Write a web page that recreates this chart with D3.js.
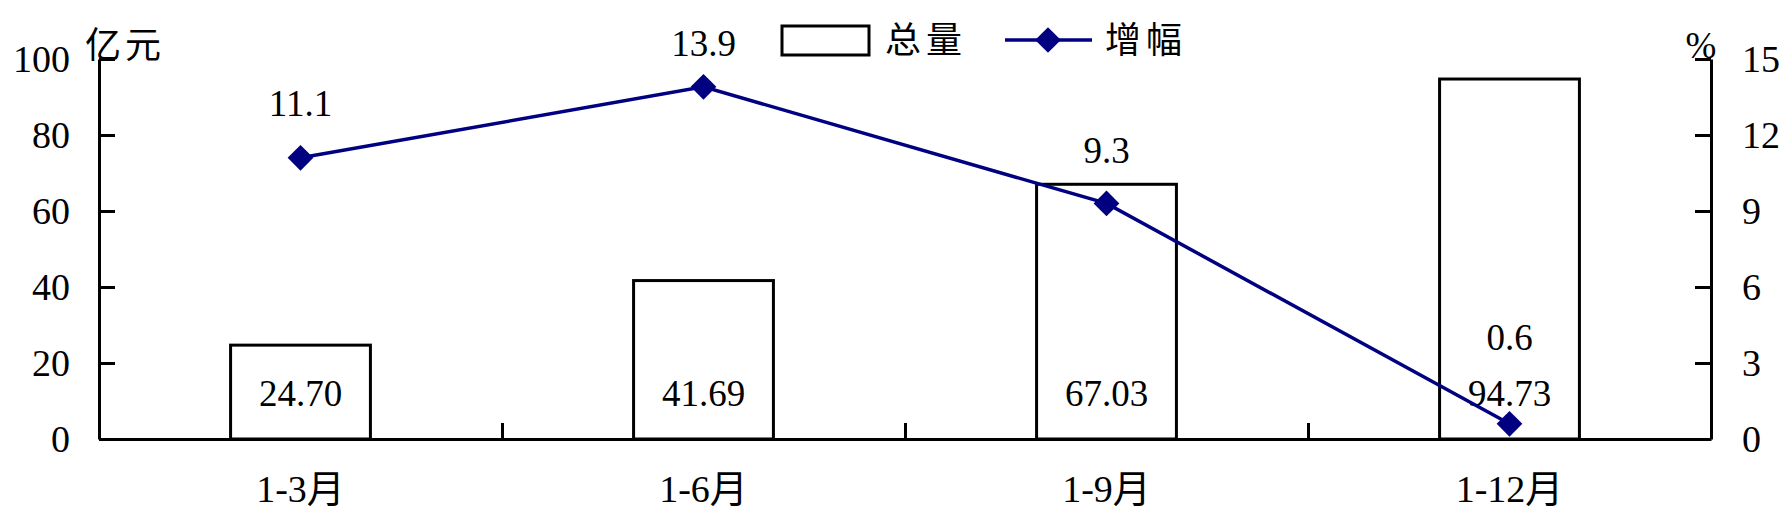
<!DOCTYPE html>
<html>
<head>
<meta charset="utf-8">
<script src="https://cdn.jsdelivr.net/npm/d3@7"></script>
<style>
  html, body { margin: 0; padding: 0; background: #fff; }
  svg { display: block; }
</style>
</head>
<body>
<svg id="chart" width="1785" height="523"></svg>
<script>
// ---- data ----
const categories = ["1-3月", "1-6月", "1-9月", "1-12月"];
const totals = [24.70, 41.69, 67.03, 94.73];          // 亿元
const growth = [11.1, 13.9, 9.3, 0.6];                // %
const leftTicks = [0, 20, 40, 60, 80, 100];
const rightTicks = [0, 3, 6, 9, 12, 15];
const totalLabels = ["24.70", "41.69", "67.03", "94.73"];
const growthLabels = ["11.1", "13.9", "9.3", "0.6"];
// label offsets above each point (layout only)
const growthLabelOffset = [55, 44, 53, 87];

// ---- layout ----
const plotL = 99, plotR = 1711, plotT = 59, plotB = 439;
const FF = '"Liberation Serif", "Noto Sans CJK SC", serif';
const FS = 38;
const navy = "#000080";

const svg = d3.select("#chart");

const x = d3.scaleBand().domain(categories).range([plotL, plotR]).paddingInner(0).paddingOuter(0);
const xb = d3.scaleLinear().domain([0, categories.length]).range([plotL, plotR]);
const yL = d3.scaleLinear().domain([0, 100]).range([plotB, plotT]);
const yR = d3.scaleLinear().domain([0, 15]).range([plotB, plotT]);
const barW = x.bandwidth() * 0.347;

// bars
svg.append("g").selectAll("rect").data(totals).join("rect")
  .attr("x", (d, i) => x(categories[i]) + x.bandwidth() / 2 - barW / 2)
  .attr("y", d => yL(d))
  .attr("width", barW)
  .attr("height", d => yL(0) - yL(d))
  .attr("fill", "#fff")
  .attr("stroke", "#000")
  .attr("stroke-width", 3);

// bar labels
svg.append("g").selectAll("text").data(totalLabels).join("text")
  .attr("x", (d, i) => x(categories[i]) + x.bandwidth() / 2)
  .attr("y", yL(0) - 46)
  .attr("dy", "0.35em")
  .attr("text-anchor", "middle")
  .style("font-family", FF)
  .style("font-size", "37px")
  .text(d => d);

// axes
const axL = svg.append("g").attr("transform", `translate(${plotL},0)`)
  .call(d3.axisLeft(yL).tickValues(leftTicks).tickSizeInner(-16).tickSizeOuter(0).tickPadding(29).tickFormat(d3.format("d")));
const axR = svg.append("g").attr("transform", `translate(${plotR},0)`)
  .call(d3.axisRight(yR).tickValues(rightTicks).tickSizeInner(-16).tickSizeOuter(0).tickPadding(31).tickFormat(d3.format("d")));
const axB = svg.append("g").attr("transform", `translate(0,${plotB})`)
  .call(d3.axisBottom(x).tickSize(0).tickPadding(36));
const axB2 = svg.append("g").attr("transform", `translate(0,${plotB})`)
  .call(d3.axisBottom(xb).tickValues([1, 2, 3]).tickSizeInner(-16).tickSizeOuter(0).tickFormat(""));
axB2.select(".domain").remove();

[axL, axR, axB, axB2].forEach(g => {
  g.attr("font-family", null).attr("font-size", null);
  g.selectAll("path.domain").attr("stroke", "#000").attr("stroke-width", 3);
  g.selectAll(".tick line").attr("stroke", "#000").attr("stroke-width", 3);
  g.selectAll(".tick text").attr("fill", "#000")
    .style("font-family", FF)
    .style("font-size", FS + "px");
});

// line
const cx = i => x(categories[i]) + x.bandwidth() / 2;
const line = d3.line().x((d, i) => cx(i)).y(d => yR(d));
svg.append("path").datum(growth)
  .attr("d", line)
  .attr("fill", "none")
  .attr("stroke", navy)
  .attr("stroke-width", 3.5);

const diamond = d3.symbol().type(d3.symbolSquare).size(330);
svg.append("g").selectAll("path").data(growth).join("path")
  .attr("d", diamond)
  .attr("transform", (d, i) => `translate(${cx(i)},${yR(d)}) rotate(45)`)
  .attr("fill", navy);

svg.append("g").selectAll("text").data(growthLabels).join("text")
  .attr("x", (d, i) => cx(i))
  .attr("y", (d, i) => yR(growth[i]) - growthLabelOffset[i])
  .attr("dy", "0.35em")
  .attr("text-anchor", "middle")
  .style("font-family", FF)
  .style("font-size", "37px")
  .text(d => d);

// axis unit labels
svg.append("text").attr("x", 85).attr("y", 45).attr("dy", "0.35em")
  .style("font-family", FF).style("font-size", "36px").style("letter-spacing", "4px").text("亿元");
svg.append("text").attr("x", 1701).attr("y", 45).attr("dy", "0.35em")
  .attr("text-anchor", "middle").style("font-family", FF).style("font-size", "37px").text("%");

// legend
const lg = svg.append("g");
lg.append("rect").attr("x", 782).attr("y", 26).attr("width", 87).attr("height", 29)
  .attr("fill", "#fff").attr("stroke", "#000").attr("stroke-width", 3);
lg.append("text").attr("x", 885).attr("y", 40).attr("dy", "0.35em")
  .style("font-family", FF).style("font-size", "36px").style("letter-spacing", "5px").text("总量");
lg.append("line").attr("x1", 1005).attr("x2", 1092).attr("y1", 40).attr("y2", 40)
  .attr("stroke", navy).attr("stroke-width", 3.5);
lg.append("path").attr("d", diamond).attr("transform", "translate(1048,40) rotate(45)").attr("fill", navy);
lg.append("text").attr("x", 1105).attr("y", 40).attr("dy", "0.35em")
  .style("font-family", FF).style("font-size", "36px").style("letter-spacing", "5px").text("增幅");
</script>
</body>
</html>
